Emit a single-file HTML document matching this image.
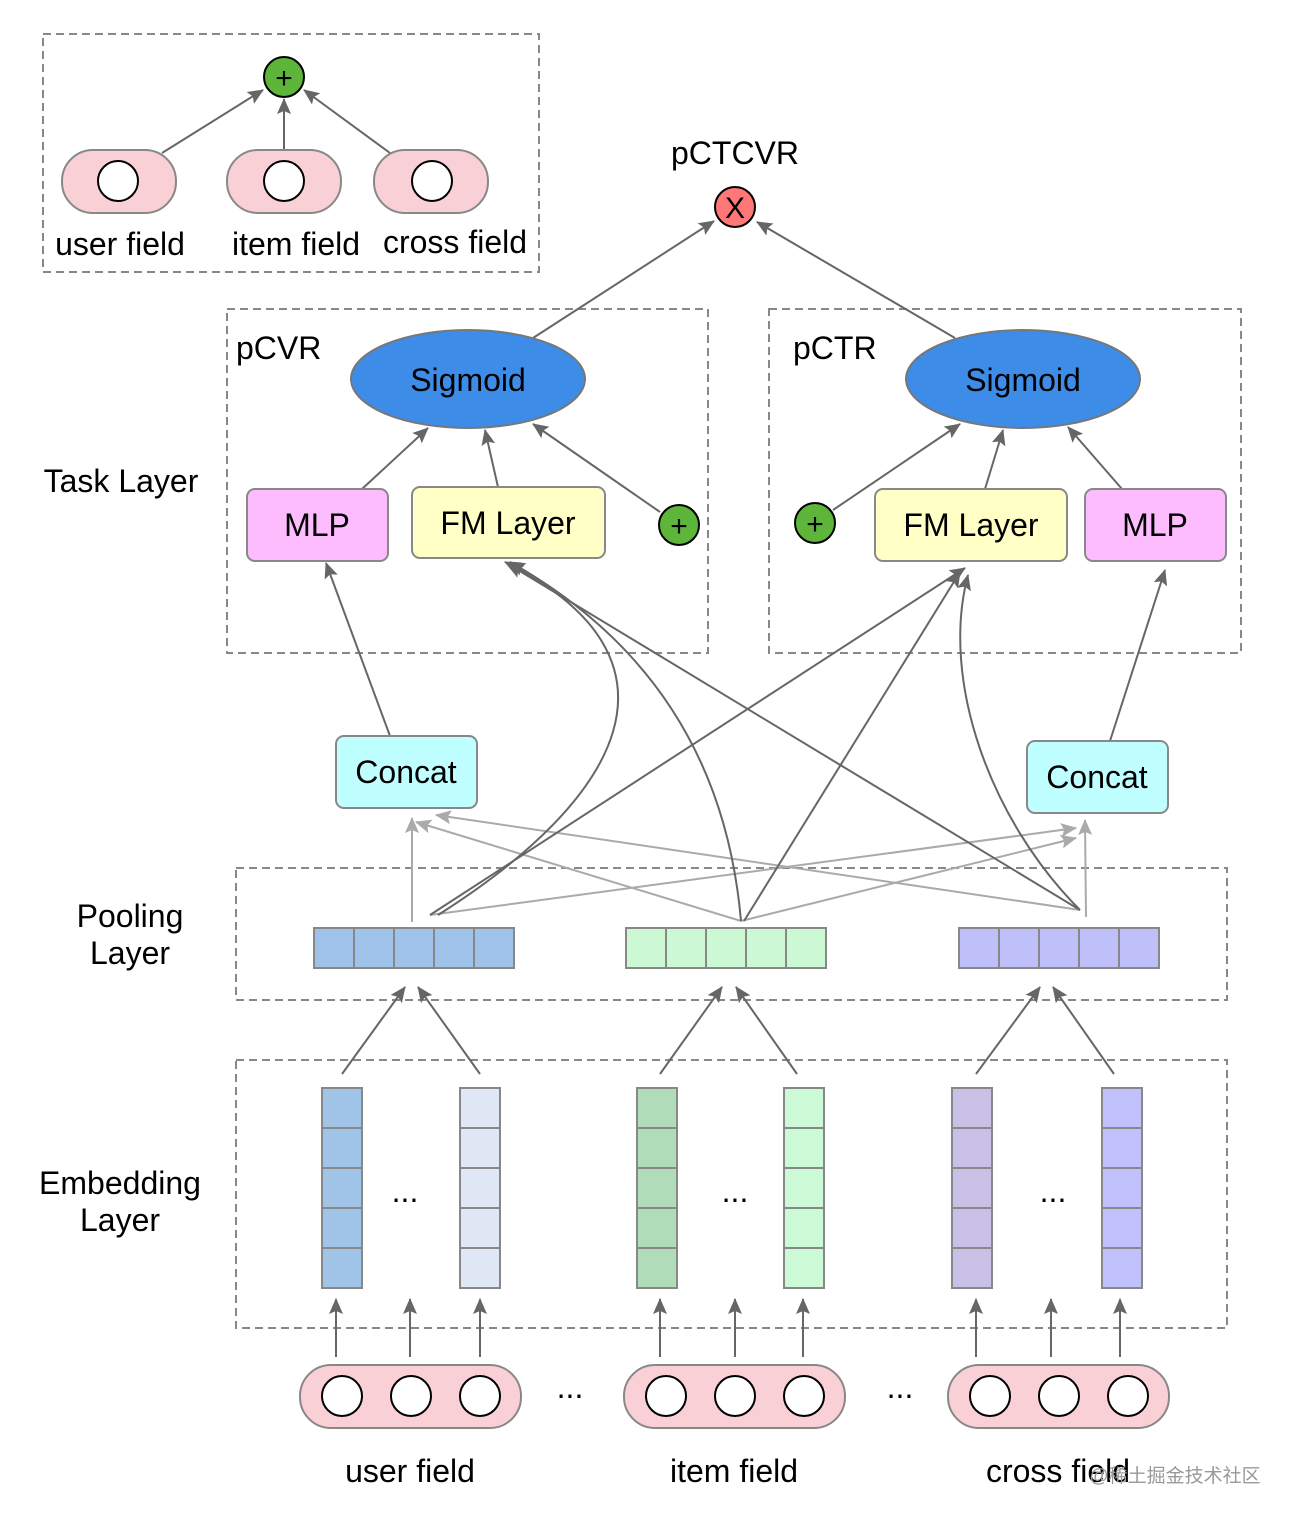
<!DOCTYPE html>
<html><head><meta charset="utf-8"><style>
html,body{margin:0;padding:0;background:#fff;}
svg{display:block;}
text{font-family:"Liberation Sans","Noto Sans CJK SC",sans-serif;fill:#000;}
</style></head><body>
<svg width="1292" height="1522" viewBox="0 0 1292 1522" xmlns="http://www.w3.org/2000/svg">
<defs>
<marker id="ag" markerWidth="16" markerHeight="16" refX="15" refY="8" orient="auto" markerUnits="userSpaceOnUse" viewBox="0 0 16 16"><path d="M0,1 L16,8 L0,15 L3,8 z" fill="#aaa"/></marker>
<marker id="ad" markerWidth="16" markerHeight="16" refX="15" refY="8" orient="auto" markerUnits="userSpaceOnUse" viewBox="0 0 16 16"><path d="M0,1 L16,8 L0,15 L3,8 z" fill="#666"/></marker>
</defs>
<g fill="none" stroke="#888" stroke-width="2" stroke-dasharray="8,5">
<rect x="43" y="34" width="496" height="238"/>
<rect x="227" y="309" width="481" height="344"/>
<rect x="769" y="309" width="472" height="344"/>
<rect x="236" y="868" width="991" height="132"/>
<rect x="236" y="1060" width="991" height="268"/>
</g>
<g stroke="#666" stroke-width="2" fill="none" marker-end="url(#ad)">
<line x1="162" y1="153" x2="263" y2="90"/>
<line x1="284" y1="150" x2="284" y2="99"/>
<line x1="390" y1="153" x2="304" y2="90"/>
</g>
<g fill="#f9d0d6" stroke="#888" stroke-width="2">
<rect x="62" y="150" width="114" height="63" rx="31"/>
<rect x="227" y="150" width="114" height="63" rx="31"/>
<rect x="374" y="150" width="114" height="63" rx="31"/>
</g>
<g fill="#fff" stroke="#000" stroke-width="2">
<circle cx="118" cy="181" r="20"/><circle cx="284" cy="181" r="20"/><circle cx="432" cy="181" r="20"/>
</g>
<circle cx="284" cy="77" r="20" fill="#5db53a" stroke="#000" stroke-width="2"/>
<text x="284" y="88" font-size="30" text-anchor="middle">+</text>
<g font-size="32" text-anchor="middle">
<text x="120" y="255">user field</text><text x="296" y="255">item field</text><text x="455" y="253">cross field</text>
</g>
<text x="735" y="164" font-size="32" text-anchor="middle">pCTCVR</text>
<g stroke="#666" stroke-width="2" fill="none" marker-end="url(#ad)">
<line x1="533" y1="338" x2="714" y2="221"/>
<line x1="955" y1="338" x2="757" y2="222"/>
</g>
<circle cx="735" cy="207" r="20" fill="#f77" stroke="#000" stroke-width="2"/>
<text x="735" y="218" font-size="30" text-anchor="middle">X</text>
<text x="236" y="359" font-size="32">pCVR</text>
<text x="793" y="359" font-size="32">pCTR</text>
<text x="121" y="492" font-size="32" text-anchor="middle">Task Layer</text>
<text x="130" y="927" font-size="32" text-anchor="middle">Pooling</text>
<text x="130" y="964" font-size="32" text-anchor="middle">Layer</text>
<text x="120" y="1194" font-size="32" text-anchor="middle">Embedding</text>
<text x="120" y="1231" font-size="32" text-anchor="middle">Layer</text>
<g stroke="#666" stroke-width="2" fill="none" marker-end="url(#ad)">
<line x1="362" y1="489" x2="428" y2="428"/>
<line x1="498" y1="487" x2="485" y2="430"/>
<line x1="660" y1="512" x2="533" y2="424"/>
<line x1="833" y1="510" x2="960" y2="424"/>
<line x1="985" y1="489" x2="1003" y2="430"/>
<line x1="1122" y1="489" x2="1068" y2="427"/>
<line x1="390" y1="736" x2="326" y2="563"/>
<line x1="1110" y1="741" x2="1165" y2="570"/>
</g>
<ellipse cx="468" cy="379" rx="117" ry="49" fill="#3d8ce8" stroke="#777" stroke-width="2"/>
<ellipse cx="1023" cy="379" rx="117" ry="49" fill="#3d8ce8" stroke="#777" stroke-width="2"/>
<g font-size="32" text-anchor="middle">
<text x="468" y="391">Sigmoid</text><text x="1023" y="391">Sigmoid</text>
</g>
<g stroke="#888" stroke-width="2">
<rect x="247" y="489" width="141" height="72" rx="8" fill="#fdbcfd"/>
<rect x="412" y="487" width="193" height="71" rx="8" fill="#ffffc6"/>
<rect x="875" y="489" width="192" height="72" rx="8" fill="#ffffc6"/>
<rect x="1085" y="489" width="141" height="72" rx="8" fill="#fdbcfd"/>
<rect x="336" y="736" width="141" height="72" rx="8" fill="#bfffff"/>
<rect x="1027" y="741" width="141" height="72" rx="8" fill="#bfffff"/>
</g>
<g font-size="32" text-anchor="middle">
<text x="317" y="536">MLP</text><text x="508" y="534">FM Layer</text>
<text x="971" y="536">FM Layer</text><text x="1155" y="536">MLP</text>
<text x="406" y="783">Concat</text><text x="1097" y="788">Concat</text>
</g>
<g fill="#5db53a" stroke="#000" stroke-width="2">
<circle cx="679" cy="525" r="20"/><circle cx="815" cy="523" r="20"/>
</g>
<g font-size="30" text-anchor="middle"><text x="679" y="536">+</text><text x="815" y="534">+</text></g>
<g stroke="#aaa" stroke-width="2" fill="none" marker-end="url(#ag)">
<line x1="412" y1="922" x2="412" y2="818"/>
<line x1="430" y1="915" x2="1076" y2="828"/>
<line x1="741" y1="921" x2="416" y2="822"/>
<line x1="741" y1="921" x2="1076" y2="838"/>
<line x1="1080" y1="910" x2="436" y2="815"/>
<line x1="1086" y1="917" x2="1085" y2="820"/>
</g>
<g stroke="#666" stroke-width="2" fill="none" marker-end="url(#ad)">
<path d="M438,915 C620,800 700,660 505,562"/>
<path d="M741,921 Q720,680 510,562"/>
<line x1="430" y1="915" x2="965" y2="568"/>
<line x1="744" y1="921" x2="960" y2="572"/>
<line x1="1080" y1="910" x2="508" y2="564"/>
<path d="M1080,910 C990,820 940,680 968,575"/>
</g>
<g stroke="#888" stroke-width="2">
<g fill="#9fc3e8"><rect x="314" y="928" width="40" height="40"/><rect x="354" y="928" width="40" height="40"/><rect x="394" y="928" width="40" height="40"/><rect x="434" y="928" width="40" height="40"/><rect x="474" y="928" width="40" height="40"/></g>
<g fill="#ccf8d4"><rect x="626" y="928" width="40" height="40"/><rect x="666" y="928" width="40" height="40"/><rect x="706" y="928" width="40" height="40"/><rect x="746" y="928" width="40" height="40"/><rect x="786" y="928" width="40" height="40"/></g>
<g fill="#bfbffa"><rect x="959" y="928" width="40" height="40"/><rect x="999" y="928" width="40" height="40"/><rect x="1039" y="928" width="40" height="40"/><rect x="1079" y="928" width="40" height="40"/><rect x="1119" y="928" width="40" height="40"/></g>
</g>
<g stroke="#666" stroke-width="2" fill="none" marker-end="url(#ad)">
<line x1="342" y1="1074" x2="405" y2="987"/><line x1="480" y1="1074" x2="418" y2="987"/>
<line x1="660" y1="1074" x2="722" y2="987"/><line x1="797" y1="1074" x2="736" y2="987"/>
<line x1="976" y1="1074" x2="1040" y2="987"/><line x1="1114" y1="1074" x2="1053" y2="987"/>
<line x1="336" y1="1357" x2="336" y2="1299"/><line x1="410" y1="1357" x2="410" y2="1299"/><line x1="480" y1="1357" x2="480" y2="1299"/>
<line x1="660" y1="1357" x2="660" y2="1299"/><line x1="735" y1="1357" x2="735" y2="1299"/><line x1="803" y1="1357" x2="803" y2="1299"/>
<line x1="976" y1="1357" x2="976" y2="1299"/><line x1="1051" y1="1357" x2="1051" y2="1299"/><line x1="1120" y1="1357" x2="1120" y2="1299"/>
</g>
<g stroke="#888" stroke-width="2">
<g fill="#a0c4e8"><rect x="322" y="1088" width="40" height="40"/><rect x="322" y="1128" width="40" height="40"/><rect x="322" y="1168" width="40" height="40"/><rect x="322" y="1208" width="40" height="40"/><rect x="322" y="1248" width="40" height="40"/></g>
<g fill="#dfe6f4"><rect x="460" y="1088" width="40" height="40"/><rect x="460" y="1128" width="40" height="40"/><rect x="460" y="1168" width="40" height="40"/><rect x="460" y="1208" width="40" height="40"/><rect x="460" y="1248" width="40" height="40"/></g>
<g fill="#b0dcb8"><rect x="637" y="1088" width="40" height="40"/><rect x="637" y="1128" width="40" height="40"/><rect x="637" y="1168" width="40" height="40"/><rect x="637" y="1208" width="40" height="40"/><rect x="637" y="1248" width="40" height="40"/></g>
<g fill="#ccfad6"><rect x="784" y="1088" width="40" height="40"/><rect x="784" y="1128" width="40" height="40"/><rect x="784" y="1168" width="40" height="40"/><rect x="784" y="1208" width="40" height="40"/><rect x="784" y="1248" width="40" height="40"/></g>
<g fill="#c8c0e6"><rect x="952" y="1088" width="40" height="40"/><rect x="952" y="1128" width="40" height="40"/><rect x="952" y="1168" width="40" height="40"/><rect x="952" y="1208" width="40" height="40"/><rect x="952" y="1248" width="40" height="40"/></g>
<g fill="#c0c0fc"><rect x="1102" y="1088" width="40" height="40"/><rect x="1102" y="1128" width="40" height="40"/><rect x="1102" y="1168" width="40" height="40"/><rect x="1102" y="1208" width="40" height="40"/><rect x="1102" y="1248" width="40" height="40"/></g>
</g>
<g font-size="32" text-anchor="middle">
<text x="405" y="1202">...</text><text x="735" y="1202">...</text><text x="1053" y="1202">...</text>
<text x="570" y="1398">...</text><text x="900" y="1398">...</text>
</g>
<g fill="#f9d0d6" stroke="#888" stroke-width="2">
<rect x="300" y="1365" width="221" height="63" rx="31"/>
<rect x="624" y="1365" width="221" height="63" rx="31"/>
<rect x="948" y="1365" width="221" height="63" rx="31"/>
</g>
<g fill="#fff" stroke="#000" stroke-width="2">
<circle cx="342" cy="1396" r="20"/><circle cx="411" cy="1396" r="20"/><circle cx="480" cy="1396" r="20"/>
<circle cx="666" cy="1396" r="20"/><circle cx="735" cy="1396" r="20"/><circle cx="804" cy="1396" r="20"/>
<circle cx="990" cy="1396" r="20"/><circle cx="1059" cy="1396" r="20"/><circle cx="1128" cy="1396" r="20"/>
</g>
<g font-size="32" text-anchor="middle">
<text x="410" y="1482">user field</text><text x="734" y="1482">item field</text><text x="1058" y="1482">cross field</text>
</g>
<text x="1175" y="1482" font-size="19" text-anchor="middle" style="fill:#999">@稀土掘金技术社区</text>
</svg>
</body></html>
